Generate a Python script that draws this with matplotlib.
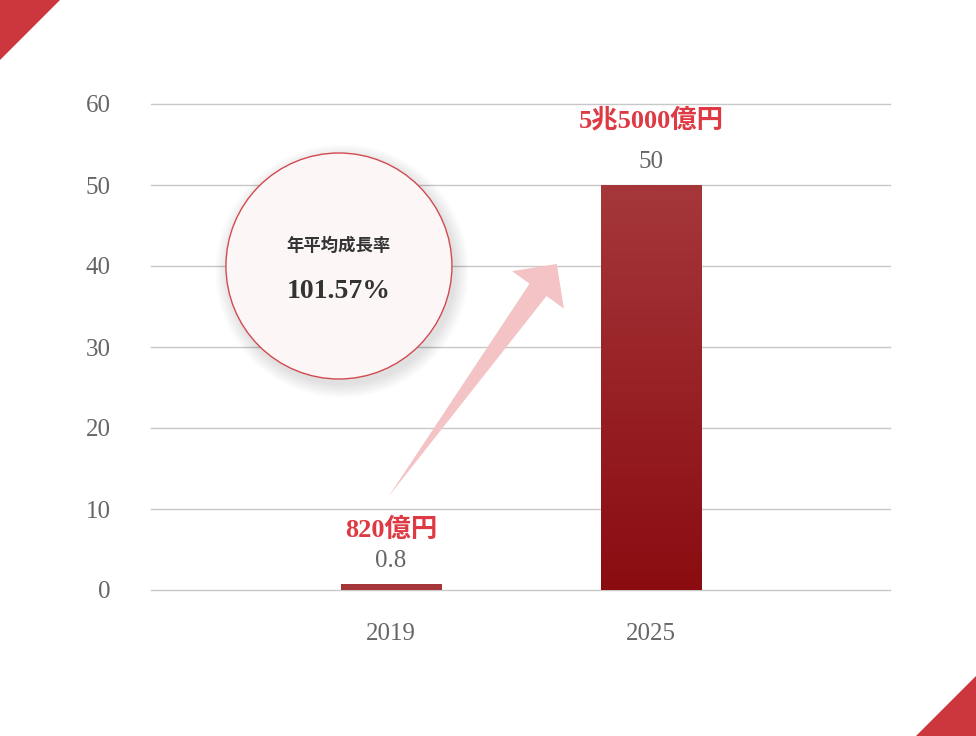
import numpy as np
import matplotlib
matplotlib.use("Agg")
import matplotlib.pyplot as plt
from matplotlib.patches import Polygon, Circle
from matplotlib.transforms import IdentityTransform

years = ["2019", "2025"]
values = [0.8, 50]
value_labels = ["0.8", "50"]
yen_labels = ["820億円", "5兆5000億円"]
y_ticks = [0, 10, 20, 30, 40, 50, 60]
cagr_title = "年平均成長率"
cagr_value = "101.57%"

W, H = 976, 736
SERIF = ["Liberation Serif", "Noto Sans CJK JP", "DejaVu Sans"]
GRAY = "#666666"
RED = "#DE3A44"

fig = plt.figure(figsize=(W / 100, H / 100), dpi=100)
fig.patch.set_facecolor("white")
ax = fig.add_axes([151 / W, (H - 590) / H, (890 - 151) / W, (590 - 104) / H])

x = np.arange(len(years))
ax.set_yticks(y_ticks)
ax.set_yticklabels([str(t) for t in y_ticks], family=SERIF, fontsize=18, color=GRAY)
ax.set_xticks(x)
ax.set_xticklabels(years, family=SERIF, fontsize=18, color=GRAY)
ax.tick_params(axis="y", length=0, pad=29)
ax.tick_params(axis="x", length=0, pad=24)
for s in ax.spines.values():
    s.set_visible(False)
for t in y_ticks:
    ax.axhline(t, color="#C8C8C8", lw=1, zorder=1, clip_on=False)

# bars, gradient runs darker from each bar's top over 50 units
bars = ax.bar(x, values, width=0.385, color="none", zorder=2)
grad = np.linspace(0, 1, 256).reshape(-1, 1)
cmap = matplotlib.colors.LinearSegmentedColormap.from_list("bar", ["#8A0C11", "#A5373B"])
for b in bars:
    x0, w, h = b.get_x(), b.get_width(), b.get_height()
    im = ax.imshow(grad, cmap=cmap, origin="lower", aspect="auto",
                   extent=[x0, x0 + w, h - 50, h], zorder=2)
    im.set_clip_path(b)
ax.set_xlim(-0.923, 1.92)
ax.set_ylim(0, 60)

red_offsets = [42, 53]
for xi, v, vl, yl, off in zip(x, values, value_labels, yen_labels, red_offsets):
    ax.annotate(vl, (xi, v), xytext=(0, 12), textcoords="offset pixels",
                ha="center", va="bottom", family=SERIF, fontsize=18, color=GRAY)
    ax.annotate(yl, (xi, v), xytext=(0, off), textcoords="offset pixels",
                ha="center", va="bottom", family=SERIF, fontsize=19,
                fontweight="bold", color=RED)

# growth arrow (tail near 2019 bar, tip near 2025 bar), built in pixel space
fig.canvas.draw()
tail = ax.transData.transform((-0.01, 11.5))
tip = ax.transData.transform((0.638, 40.25))
d = tip - tail
u = d / np.hypot(*d)
n = np.array([-u[1], u[0]])
head_len, head_half, shaft_half = 32, 32, 10.5
base = tip - u * head_len
arrow_pts = [tail, base + n * shaft_half, base + n * head_half, tip,
             base - n * head_half, base - n * shaft_half]
ax.add_patch(Polygon(arrow_pts, closed=True, transform=IdentityTransform(),
                     facecolor="#F4C3C6", edgecolor="none", zorder=3))

# CAGR circle with soft shadow
c = ax.transData.transform((-0.2, 40.0))
r = 113
for k in range(10):
    ax.add_patch(Circle(c + np.array([3, -5]), r + 1 + k * 1.4, transform=IdentityTransform(),
                        facecolor="black", edgecolor="none", alpha=0.010, zorder=3.5))
ax.add_patch(Circle(c, r, transform=IdentityTransform(), facecolor="#FCF6F6",
                    edgecolor="#D24A50", lw=1, zorder=4))
ax.text(c[0], c[1] + 20, cagr_title, transform=IdentityTransform(), ha="center", va="center",
        family=["Noto Sans CJK JP"], fontsize=12.5, fontweight="bold", color="#333333", zorder=5)
ax.text(c[0], c[1] - 25, cagr_value, transform=IdentityTransform(), ha="center", va="center",
        family=SERIF, fontsize=20, fontweight="bold", color="#333333", zorder=5)

# corner triangles
fig.patches.append(Polygon([(0, 1), (60 / W, 1), (0, 1 - 60 / H)], closed=True,
                           transform=fig.transFigure, facecolor="#CB373D", edgecolor="none"))
fig.patches.append(Polygon([(1, 60 / H), (1, 0), (1 - 60 / W, 0)], closed=True,
                           transform=fig.transFigure, facecolor="#CB373D", edgecolor="none"))

fig.savefig("out.png", dpi=100, facecolor="white")
